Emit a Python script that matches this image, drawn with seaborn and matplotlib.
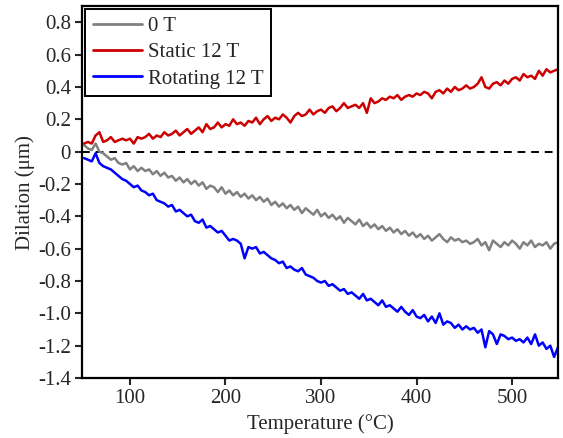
import numpy as np
import pandas as pd
import seaborn as sns
import matplotlib.pyplot as plt

# temperature grid (°C), one reading every 4 degrees
temps = np.arange(52, 549, 4)

zero_t = [
    0.04, 0.02, 0.01, 0.05, 0.00, -0.01, -0.03, -0.05, -0.04, -0.07,
    -0.08, -0.07, -0.11, -0.09, -0.12, -0.10, -0.12, -0.11, -0.14, -0.12,
    -0.15, -0.13, -0.16, -0.15, -0.18, -0.16, -0.19, -0.17, -0.20, -0.18,
    -0.21, -0.19, -0.23, -0.21, -0.22, -0.25, -0.22, -0.26, -0.24, -0.27,
    -0.25, -0.28, -0.26, -0.29, -0.27, -0.30, -0.28, -0.31, -0.29, -0.33,
    -0.31, -0.34, -0.32, -0.35, -0.33, -0.36, -0.34, -0.38, -0.35, -0.37,
    -0.39, -0.36, -0.40, -0.38, -0.41, -0.39, -0.42, -0.40, -0.44, -0.41,
    -0.43, -0.45, -0.42, -0.46, -0.44, -0.47, -0.45, -0.48, -0.46, -0.49,
    -0.47, -0.50, -0.48, -0.51, -0.49, -0.52, -0.50, -0.53, -0.51, -0.54,
    -0.52, -0.55, -0.53, -0.51, -0.54, -0.56, -0.53, -0.55, -0.54, -0.56,
    -0.55, -0.57, -0.56, -0.54, -0.58, -0.56, -0.61, -0.55, -0.57, -0.59,
    -0.56, -0.58, -0.55, -0.57, -0.60, -0.56, -0.58, -0.55, -0.59, -0.57,
    -0.58, -0.56, -0.60, -0.57, -0.56,
]

static_12t = [
    0.05, 0.06, 0.05, 0.10, 0.12, 0.06, 0.07, 0.09, 0.06, 0.07,
    0.08, 0.07, 0.08, 0.05, 0.09, 0.08, 0.09, 0.11, 0.08, 0.10,
    0.09, 0.12, 0.10, 0.11, 0.13, 0.10, 0.12, 0.14, 0.11, 0.13,
    0.15, 0.12, 0.17, 0.14, 0.15, 0.18, 0.15, 0.17, 0.16, 0.20,
    0.17, 0.18, 0.16, 0.19, 0.18, 0.21, 0.17, 0.20, 0.22, 0.19,
    0.21, 0.20, 0.23, 0.21, 0.18, 0.22, 0.24, 0.22, 0.23, 0.26,
    0.23, 0.25, 0.26, 0.24, 0.27, 0.28, 0.25, 0.27, 0.30, 0.27,
    0.28, 0.29, 0.27, 0.30, 0.24, 0.33, 0.30, 0.31, 0.33, 0.32,
    0.34, 0.33, 0.35, 0.32, 0.34, 0.35, 0.34, 0.36, 0.35, 0.37,
    0.36, 0.33, 0.37, 0.38, 0.36, 0.39, 0.37, 0.40, 0.38, 0.39,
    0.41, 0.39, 0.40, 0.42, 0.46, 0.40, 0.39, 0.42, 0.43, 0.41,
    0.44, 0.42, 0.45, 0.46, 0.44, 0.48, 0.46, 0.47, 0.45, 0.50,
    0.47, 0.51, 0.49, 0.50, 0.51,
]

rotating_12t = [
    -0.04, -0.05, -0.06, -0.01, -0.07, -0.09, -0.10, -0.11, -0.13, -0.15,
    -0.17, -0.18, -0.20, -0.22, -0.21, -0.24, -0.25, -0.27, -0.26, -0.30,
    -0.31, -0.32, -0.34, -0.33, -0.37, -0.36, -0.38, -0.40, -0.39, -0.43,
    -0.44, -0.42, -0.47, -0.46, -0.48, -0.50, -0.49, -0.52, -0.55, -0.54,
    -0.55, -0.57, -0.66, -0.59, -0.60, -0.59, -0.63, -0.62, -0.64, -0.66,
    -0.67, -0.69, -0.68, -0.72, -0.71, -0.73, -0.74, -0.72, -0.76, -0.77,
    -0.78, -0.80, -0.81, -0.80, -0.83, -0.82, -0.84, -0.86, -0.85, -0.88,
    -0.87, -0.89, -0.91, -0.88, -0.92, -0.91, -0.93, -0.95, -0.92, -0.96,
    -0.95, -0.97, -0.99, -0.96, -0.99, -1.01, -0.98, -1.02, -1.03, -1.01,
    -1.05, -1.02, -1.06, -1.00, -1.07, -1.05, -1.06, -1.09, -1.07, -1.10,
    -1.08, -1.10, -1.09, -1.12, -1.10, -1.21, -1.11, -1.13, -1.19, -1.13,
    -1.14, -1.16, -1.15, -1.17, -1.16, -1.18, -1.15, -1.19, -1.13, -1.20,
    -1.18, -1.22, -1.20, -1.27, -1.21,
]

labels = ['0 T', 'Static 12 T', 'Rotating 12 T']
colors = {'0 T': '#808080', 'Static 12 T': '#cc0000', 'Rotating 12 T': '#0000ff'}

yticks = [0.8, 0.6, 0.4, 0.2, 0, -0.2, -0.4, -0.6, -0.8, -1.0, -1.2, -1.4]
ytick_labels = ['0.8', '0.6', '0.4', '0.2', '0', '-0.2', '-0.4', '-0.6',
                '-0.8', '-1.0', '-1.2', '-1.4']
xticks = [100, 200, 300, 400, 500]

# long-form table for seaborn
frames = []
for name, vals in zip(labels, [zero_t, static_12t, rotating_12t]):
    n = min(len(vals), len(temps))
    frames.append(pd.DataFrame({'T': temps[:n], 'd': vals[:n], 'series': name}))
df = pd.concat(frames, ignore_index=True)

sns.set_style('ticks')
serif = ['Liberation Serif', 'DejaVu Serif']
plt.rcParams['font.family'] = serif
plt.rcParams['axes.unicode_minus'] = False
plt.rcParams['font.size'] = 15

fig = plt.figure(figsize=(5.63, 4.38), dpi=100)
ax = fig.add_axes([0.146, 0.137, 0.845, 0.849])

sns.lineplot(data=df, x='T', y='d', hue='series', hue_order=labels,
             palette=colors, linewidth=1.8, ax=ax)
ax.axhline(0, color='black', linestyle=(0, (4, 3)), linewidth=1.4, zorder=0)

ax.set_xlim(50, 548)
ax.set_ylim(-1.4, 0.9)
ax.set_xticks(xticks)
ax.set_yticks(yticks)
ax.set_yticklabels(ytick_labels)
ax.tick_params(direction='out', length=5, width=1.5, labelsize=15, pad=3)
for lbl in ax.get_xticklabels() + ax.get_yticklabels():
    lbl.set_family(serif)
for s in ax.spines.values():
    s.set_linewidth(1.6)
    s.set_color('black')

ax.set_xlabel('Temperature (°C)', fontsize=15, labelpad=4)
ax.set_ylabel('Dilation (μm)', fontsize=15, labelpad=2)

leg = ax.legend(loc='upper left', fontsize=15, frameon=True, fancybox=False,
                handlelength=2.35, handletextpad=0.3, borderpad=0.35,
                labelspacing=0.32, borderaxespad=0.15)
leg.get_frame().set_edgecolor('black')
leg.get_frame().set_linewidth(1.4)
leg.get_frame().set_alpha(1)
for line in leg.get_lines():
    line.set_linewidth(2)

fig.savefig('out.png', dpi=100)
